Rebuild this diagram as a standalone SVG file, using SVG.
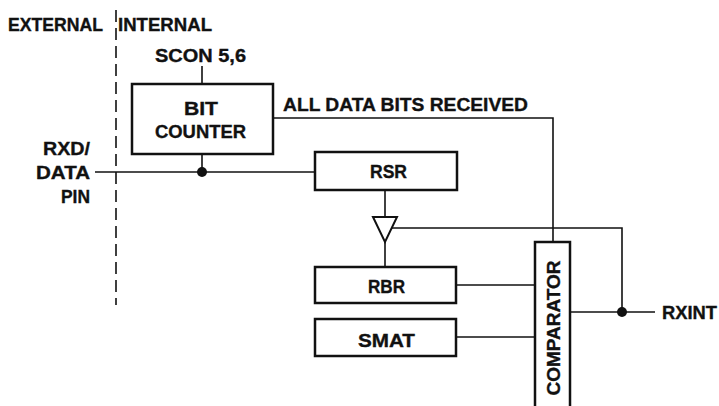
<svg xmlns="http://www.w3.org/2000/svg" width="719" height="406" viewBox="0 0 719 406">
<style>
text{font-family:"Liberation Sans",Arial,sans-serif;font-weight:bold;font-size:18px;fill:#111;stroke:#111;stroke-width:0.35}
.box{fill:#fff;stroke:#111;stroke-width:2.5}
.w{fill:none;stroke:#111;stroke-width:1.6}
.m{text-anchor:middle}
</style>
<rect width="719" height="406" fill="#fff"/>
<g id="boundary">
<line x1="116" y1="10" x2="116" y2="305" stroke="#111" stroke-width="1.6" stroke-dasharray="12,6"/>
<text x="8" y="31" textLength="95" lengthAdjust="spacingAndGlyphs">EXTERNAL</text>
<text x="118" y="31" textLength="94" lengthAdjust="spacingAndGlyphs">INTERNAL</text>
</g>
<g id="connectors">
<line class="w" x1="202" y1="66" x2="202" y2="84"/>
<polyline class="w" points="95,172 315,172"/>
<line class="w" x1="202" y1="154" x2="202" y2="172"/>
<circle cx="202" cy="172" r="5" fill="#111"/>
<polyline class="w" points="273,118 553,118 553,242"/>
<line class="w" x1="385" y1="190" x2="385" y2="217"/>
<line class="w" x1="385" y1="242" x2="385" y2="267"/>
<polyline class="w" points="391,228 622,228 622,312"/>
<line class="w" x1="456" y1="285" x2="535" y2="285"/>
<line class="w" x1="456" y1="337" x2="535" y2="337"/>
<line class="w" x1="570" y1="312" x2="655" y2="312"/>
<circle cx="622" cy="312" r="5" fill="#111"/>
<polygon points="373,217 397,217 385,242" fill="#fff" stroke="#111" stroke-width="2"/>
</g>
<g id="scon"><text x="155" y="62" textLength="91" lengthAdjust="spacingAndGlyphs">SCON 5,6</text></g>
<g id="bitcounter">
<rect class="box" x="132" y="84" width="141" height="70"/>
<text class="m" x="201" y="115" textLength="34" lengthAdjust="spacingAndGlyphs">BIT</text>
<text x="155" y="138" textLength="91" lengthAdjust="spacingAndGlyphs">COUNTER</text>
</g>
<g id="allbits"><text x="283" y="111" textLength="245" lengthAdjust="spacingAndGlyphs">ALL DATA BITS RECEIVED</text></g>
<g id="rxd">
<text x="43" y="155" textLength="47" lengthAdjust="spacingAndGlyphs">RXD/</text>
<text x="36" y="179" textLength="54" lengthAdjust="spacingAndGlyphs">DATA</text>
<text x="61" y="203" textLength="29" lengthAdjust="spacingAndGlyphs">PIN</text>
</g>
<g id="rsr">
<rect class="box" x="315" y="152" width="142" height="38"/>
<text x="370" y="178" textLength="37" lengthAdjust="spacingAndGlyphs">RSR</text>
</g>
<g id="rbr">
<rect class="box" x="315" y="267" width="141" height="36"/>
<text x="368" y="293" textLength="37" lengthAdjust="spacingAndGlyphs">RBR</text>
</g>
<g id="smat">
<rect class="box" x="315" y="319" width="141" height="37"/>
<text x="358" y="347" textLength="57" lengthAdjust="spacingAndGlyphs">SMAT</text>
</g>
<g id="comparator">
<rect class="box" x="535" y="242" width="35" height="170"/>
<text class="m" transform="translate(560,328) rotate(-90)" textLength="135" lengthAdjust="spacingAndGlyphs">COMPARATOR</text>
</g>
<g id="rxint"><text x="662" y="319" textLength="55" lengthAdjust="spacingAndGlyphs">RXINT</text></g>
</svg>
